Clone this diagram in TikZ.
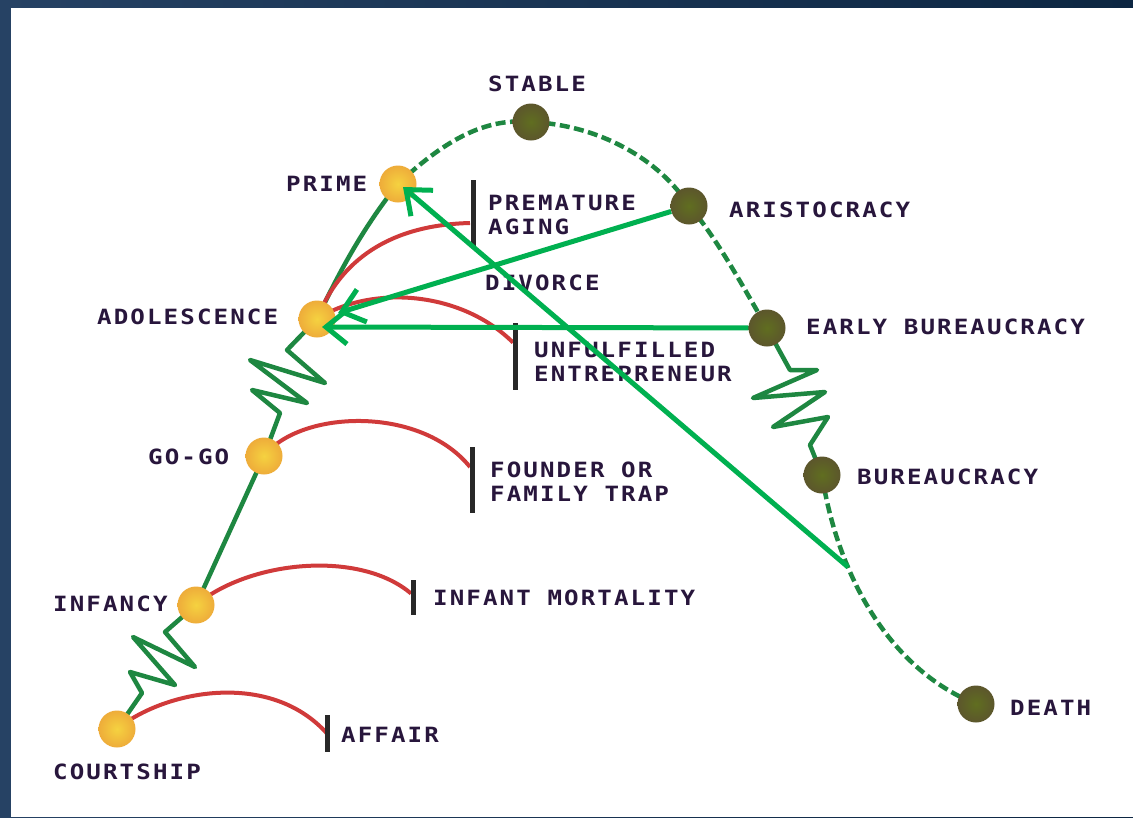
\documentclass[tikz,border=0pt]{standalone}
\usepackage{fontspec}
\newfontfamily\pixfont[LetterSpace=10,FakeStretch=1.15]{DejaVu Sans Mono}
\usetikzlibrary{arrows.meta,calc}
\pgfdeclarelayer{back}
\pgfdeclarelayer{mid}
\pgfsetlayers{back,mid,main}
\definecolor{bgA}{RGB}{38,66,100}
\definecolor{bgB}{RGB}{12,38,66}
\definecolor{lifegreen}{RGB}{30,135,65}
\definecolor{arrgreen}{RGB}{0,176,80}
\definecolor{arcred}{RGB}{208,58,58}
\definecolor{barcol}{RGB}{40,40,40}
\definecolor{txtcol}{RGB}{40,22,60}
\definecolor{yin}{RGB}{245,210,64}
\definecolor{yout}{RGB}{238,172,58}
\definecolor{din}{RGB}{96,110,32}
\definecolor{dout}{RGB}{92,86,44}
\tikzset{
  ycirc/.style={circle,minimum size=37pt,inner sep=0pt,shading=radial,inner color=yin,outer color=yout},
  dcirc/.style={circle,minimum size=37pt,inner sep=0pt,shading=radial,inner color=din,outer color=dout},
  lbl/.style={font=\pixfont\bfseries\fontsize{21}{24}\selectfont,text=txtcol,inner sep=0pt,anchor=west,align=left},
  life/.style={draw=lifegreen,line width=4.5pt,line join=round,line cap=round},
  lifedash/.style={life,line cap=butt,dash pattern=on 10pt off 4.5pt},
  redarc/.style={draw=arcred,line width=4pt},
  stopbar/.style={fill=barcol,minimum width=5pt,inner sep=0pt,draw=none},
  bigarrow/.style={draw=arrgreen,line width=5pt,-{Straight Barb[length=21pt,width=34pt]}}
}
\begin{document}
\begin{tikzpicture}[x=1pt,y=-1pt]
\useasboundingbox (0,0) rectangle (1133,817);
\begin{pgfonlayer}{back}
\shade[left color=bgA,right color=bgB] (0,0) rectangle (1133,817);
\fill[white] (11,8) rectangle (1133,817);
\end{pgfonlayer}
% stage nodes
\node[ycirc] (court) at (117,729) {};
\node[ycirc] (inf) at (196,605) {};
\node[ycirc] (gogo) at (264,456) {};
\node[ycirc] (adol) at (317,319) {};
\node[ycirc] (prime) at (398,184) {};
\node[dcirc] (stable) at (531,122) {};
\node[dcirc] (aris) at (689,206) {};
\node[dcirc] (early) at (767,328) {};
\node[dcirc] (bur) at (822,475) {};
\node[dcirc] (death) at (976,704) {};
% stop bars
\node[stopbar,minimum height=37pt] (b1) at (327,733.5) {};
\node[stopbar,minimum height=35pt] (b2) at (413,597.5) {};
\node[stopbar,minimum height=66pt] (b3) at (472,480) {};
\node[stopbar,minimum height=68pt] (b4) at (473,214) {};
\node[stopbar,minimum height=67pt] (b5) at (515,356.5) {};
\coordinate (cstart) at (848,567);
\begin{pgfonlayer}{mid}
% life curve
\draw[life] (court.center) -- (142,693) -- (130,672) -- (175,685) -- (133,637) -- (195,667) -- (165,632) -- (inf.center);
\draw[life] (inf.center) -- (gogo.center);
\draw[life] (gogo.center) -- (280,413) -- (252,390) -- (307,403) -- (250,360) -- (325,383) -- (287,350) -- (adol.center);
\draw[life] (adol.center) .. controls (340,270) and (365,225) .. (prime.center);
\draw[lifedash] (prime.center) .. controls (450,135) and (490,118) .. (stable.center);
\draw[lifedash] (stable.center) .. controls (600,125) and (660,160) .. (aris.center);
\draw[lifedash] (aris.center) .. controls (715,235) and (745,290) .. (early.center);
\draw[life] (early.center) -- (779,350) -- (790,370) -- (817,370) -- (753,398) -- (825,392) -- (773,427) -- (828,417) -- (810,445) -- (bur.center);
\draw[lifedash] (bur.center) .. controls (835,560) and (880,665) .. (death.center);
% failure arcs
\draw[redarc] (court.center) .. controls (165,690) and (270,670) .. (b1.center);
\draw[redarc] (inf.center) .. controls (250,560) and (360,550) .. ($(b2.center)+(-2,-4)$);
\draw[redarc] (gogo.center) .. controls (300,410) and (420,405) .. ($(b3.center)+(-2,-13)$);
\draw[redarc] (adol.center) .. controls (340,260) and (390,225) .. ($(b4.center)+(-3,9)$);
\draw[redarc] (adol.center) .. controls (370,285) and (460,290) .. ($(b5.center)+(-2,-14)$);
\end{pgfonlayer}
% labels
\node[lbl] (lstable) at (488,84) {STABLE};
\node[lbl] (lprime) at (286,184) {PRIME};
\node[lbl] (laging) at (488,215) {PREMATURE\\AGING};
\node[lbl] (ldiv) at (485,283) {DIVORCE};
\node[lbl] (lunf) at (534,362) {UNFULFILLED\\ENTREPRENEUR};
\node[lbl] (lfound) at (490,482) {FOUNDER OR\\FAMILY TRAP};
\node[lbl] (linfm) at (433,598) {INFANT MORTALITY};
\node[lbl] (laff) at (341,735) {AFFAIR};
\node[lbl] (lcourt) at (53,772) {COURTSHIP};
\node[lbl] (linf) at (53,604) {INFANCY};
\node[lbl] (lgogo) at (148,457) {GO-GO};
\node[lbl] (ladol) at (97,317) {ADOLESCENCE};
\node[lbl] (laris) at (729,210) {ARISTOCRACY};
\node[lbl] (learly) at (806,327) {EARLY BUREAUCRACY};
\node[lbl] (lbur) at (857,477) {BUREAUCRACY};
\node[lbl] (ldeath) at (1010,708) {DEATH};
% green arrows
\draw[bigarrow] (aris) -- ($(adol.center)+(21,-6)$);
\draw[bigarrow] (early) -- ($(adol.center)+(5,8)$);
\draw[bigarrow] (cstart) -- ($(prime.center)+(5,3)$);
\end{tikzpicture}
\end{document}
